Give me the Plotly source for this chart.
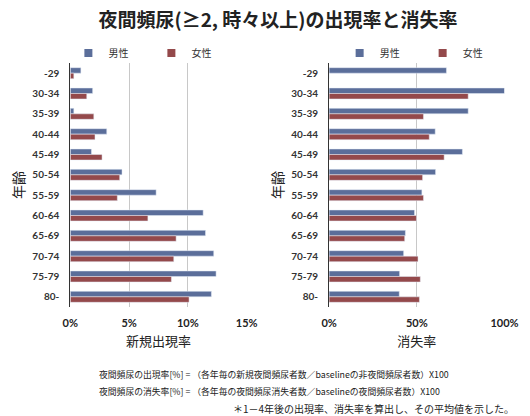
import plotly.graph_objects as go

categories = ["-29", "30-34", "35-39", "40-44", "45-49", "50-54", "55-59",
              "60-64", "65-69", "70-74", "75-79", "80-"]
incidence_male = [0.9, 1.9, 0.3, 3.1, 1.8, 4.4, 7.3, 11.3, 11.5, 12.2, 12.4, 12.0]
incidence_female = [0.3, 1.4, 2.0, 2.1, 2.7, 4.2, 4.0, 6.6, 9.0, 8.8, 8.6, 10.1]
remission_male = [66.9, 100.0, 79.3, 60.5, 76.0, 60.7, 52.9, 48.7, 43.5, 42.5, 40.2, 40.0]
remission_female = [0.0, 79.3, 53.8, 57.1, 65.6, 53.3, 53.8, 49.8, 43.1, 50.7, 52.0, 51.5]
left_ticks = [0, 5, 10, 15]
right_ticks = [0, 50, 100]
series_names = ["男性", "女性"]

BLUE = "#5b6e9a"
RED = "#94494b"
COLORS = [BLUE, RED]
FONT = "Noto Sans CJK JP"
W, H = 530, 416


def PX(x):
    return x / W


def PY(y):
    return 1 - y / H


fig = go.Figure()
panels = [("x", "y", "legend", [incidence_male, incidence_female]),
          ("x2", "y2", "legend2", [remission_male, remission_female])]
for xa, ya, leg, vals in panels:
    for name, color, v in zip(series_names, COLORS, vals):
        fig.add_trace(go.Bar(y=categories, x=v, orientation="h", name=name,
                             marker_color=color, xaxis=xa, yaxis=ya, showlegend=False))
    for name, color in zip(series_names, COLORS):
        # legend-only entries with small square swatches
        fig.add_trace(go.Scatter(x=[None], y=[None], mode="markers", name=name,
                                 marker=dict(symbol="square", size=8, color=color),
                                 xaxis=xa, yaxis=ya, legend=leg, showlegend=True))

ytop = PY(63)
ybot = PY(307)

xcommon = dict(showgrid=True, gridcolor="#c8c8c8", gridwidth=1, zeroline=False,
               showline=False, ticks="", ticklabelstandoff=8,
               tickfont=dict(family="Lato", size=11, color="#222", weight="bold"),
               title_font=dict(family=FONT, size=13, color="#222"),
               title_standoff=8, fixedrange=True)
ycommon = dict(type="category", autorange="reversed", showgrid=False, zeroline=False,
               showline=True, linecolor="#333", linewidth=1, ticks="", ticklabelstandoff=8,
               tickfont=dict(family="Lato", size=10, color="#333", weight="bold"),
               title_font=dict(family=FONT, size=14, color="#222"),
               fixedrange=True)

legcommon = dict(orientation="h", yanchor="middle", y=PY(53),
                 font=dict(family=FONT, size=10, color="#333"),
                 entrywidth=38, entrywidthmode="pixels", bgcolor="rgba(0,0,0,0)",
                 itemclick=False, itemdoubleclick=False)

fig.update_layout(
    width=W, height=H,
    margin=dict(l=0, r=0, t=0, b=0),
    paper_bgcolor="white", plot_bgcolor="white",
    barmode="group", bargap=0.46, bargroupgap=0.0,
    font=dict(family=FONT, color="#222"),
    title=dict(text="<b>夜間頻尿(≥2, 時々以上)の出現率と消失率</b>",
               x=PX(278), xanchor="center", y=PY(20), yanchor="middle",
               font=dict(family=FONT, size=19, color="#222")),
    xaxis=dict(domain=[PX(65), PX(249)], range=[0, 15], tickvals=left_ticks,
               ticktext=[f"{v}%" for v in left_ticks],
               title_text="新規出現率", anchor="y", **xcommon),
    yaxis=dict(domain=[ybot, ytop], title_text="年齢", title_standoff=4,
               anchor="x", **ycommon),
    xaxis2=dict(domain=[PX(335), PX(518)], range=[0, 100], tickvals=right_ticks,
                ticktext=[f"{v}%" for v in right_ticks],
                title_text="消失率", anchor="y2", **xcommon),
    yaxis2=dict(domain=[ybot, ytop], title_text="年齢", title_standoff=4,
                anchor="x2", **ycommon),
    legend=dict(x=PX(63), xanchor="left", **legcommon),
    legend2=dict(x=PX(346), xanchor="left", **legcommon),
)

notes = [
    ("夜間頻尿の出現率[%] = （各年毎の新規夜間頻尿者数／baselineの非夜間頻尿者数）X100", 93, 374, "left", 8.8),
    ("夜間頻尿の消失率[%] = （各年毎の夜間頻尿消失者数／baselineの夜間頻尿者数）X100", 93, 391, "left", 8.8),
    ("＊1－4年後の出現率、消失率を算出し、その平均値を示した。", 530, 408, "right", 10),
]
for text, px, py, anchor, size in notes:
    fig.add_annotation(text=text, xref="paper", yref="paper", x=PX(px), y=PY(py),
                       xanchor=anchor, yanchor="middle", showarrow=False,
                       font=dict(family=FONT, size=size, color="#222"))

fig.write_html("out.html", config={"displayModeBar": False, "staticPlot": False},
               post_script="document.body.style.margin='0';document.body.style.overflow='hidden';")
